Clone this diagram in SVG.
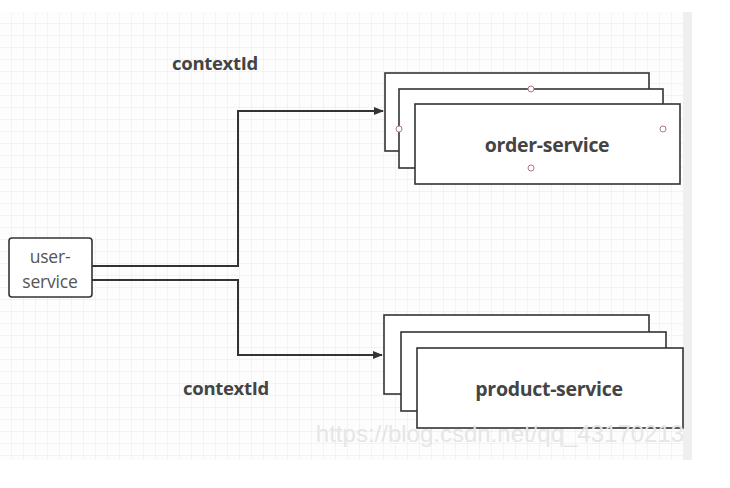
<svg xmlns="http://www.w3.org/2000/svg" width="730" height="488" viewBox="0 0 730 488">
  <defs>
    <pattern id="grid" width="12" height="12" patternUnits="userSpaceOnUse" x="0" y="12">
      <path d="M12 0V12M0 12H12" fill="none" stroke="#e8e8e8" stroke-width="1"/>
    </pattern>
    <marker id="arrow" markerWidth="10" markerHeight="8" refX="9" refY="4" orient="auto" markerUnits="userSpaceOnUse">
      <path d="M0 0L10 4L0 8Z" fill="#333"/>
    </marker>
  </defs>
  <style>
    .box { fill: #fff; stroke: #333; stroke-width: 1.6; }
    .title { font-family: "Open Sans", "Liberation Sans", sans-serif; font-weight: bold; fill: #444; }
    .plain { font-family: "Open Sans", "Liberation Sans", sans-serif; fill: #555; }
    .conn { fill: none; stroke: #333; stroke-width: 2; }
    .handle { fill: #fff; stroke: #b07a80; stroke-width: 1; }
  </style>
  <rect x="0" y="0" width="730" height="488" fill="#fff"/>
  <rect x="0" y="12" width="683" height="448" fill="#fdfdfd"/>
  <rect x="0" y="12" width="683" height="448" fill="url(#grid)"/>
  <rect x="683" y="12" width="9" height="448" fill="#efefef"/>

  <text x="215" y="70" class="title" font-size="18.5" text-anchor="middle" letter-spacing="-0.3">contextId</text>
  <text x="226" y="395" class="title" font-size="18.5" text-anchor="middle" letter-spacing="-0.3">contextId</text>

  <g id="connectors">
    <path class="conn" d="M92 266H238V111H383" marker-end="url(#arrow)" stroke="#3a2a2a"/>
    <path class="conn" d="M92 280H238V355H382" marker-end="url(#arrow)"/>
  </g>

  <g id="user-service">
    <rect x="9" y="238" width="83" height="59" rx="3" class="box"/>
    <text x="50" y="263" class="plain" font-size="17.5" text-anchor="middle" letter-spacing="-0.2">user-</text>
    <text x="50" y="288" class="plain" font-size="17.5" text-anchor="middle" letter-spacing="-0.2">service</text>
  </g>

  <g id="order-service">
    <rect x="385" y="73" width="264" height="78" class="box"/>
    <rect x="399" y="89" width="264" height="79" class="box"/>
    <rect x="415" y="104" width="265" height="80" class="box"/>
    <text x="547" y="152" class="title" font-size="19.5" text-anchor="middle" letter-spacing="-0.3">order-service</text>
    <circle cx="531" cy="89" r="3" class="handle"/>
    <circle cx="399" cy="129" r="3" class="handle"/>
    <circle cx="663" cy="129" r="3" class="handle"/>
    <circle cx="531" cy="168" r="3" class="handle"/>
  </g>

  <g id="product-service">
    <rect x="384" y="315" width="265" height="79" class="box"/>
    <rect x="401" y="332" width="265" height="79" class="box"/>
    <rect x="417" y="348" width="266" height="80" class="box"/>
    <text x="549" y="396" class="title" font-size="19.5" text-anchor="middle" letter-spacing="-0.3">product-service</text>
  </g>

  <text x="500" y="442" font-family="Liberation Sans, sans-serif" font-size="24" fill="#e6e6e6" text-anchor="middle">https://blog.csdn.net/qq_43170213</text>
</svg>
